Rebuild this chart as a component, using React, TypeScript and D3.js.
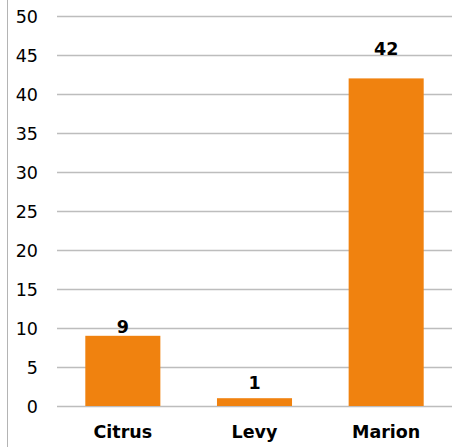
import React, { useEffect, useRef } from 'react';
import * as d3 from 'd3';

const categories = ['Citrus', 'Levy', 'Marion'];
const values = [9, 1, 42];
const yTicks = [0, 5, 10, 15, 20, 25, 30, 35, 40, 45, 50];

const W = 452;
const H = 447;
const margin = { top: 16, right: 0, bottom: 41, left: 57 };
const barColor = '#f0820f';
const gridColor = '#bdbdbd';
const font = 'Verdana, "DejaVu Sans", sans-serif';

// excel puts the labels a bit unevenly above the bars
const labelGap = [3, 9, 23];

const App = () => {
  const ref = useRef<SVGSVGElement>(null);

  useEffect(() => {
    if (!ref.current) return;
    const svg = d3.select(ref.current);
    svg.selectAll('*').remove();

    const x = d3.scaleBand()
      .domain(categories)
      .range([margin.left, W - margin.right])
      .paddingInner(0.43)
      .paddingOuter(0.215);

    const y = d3.scaleLinear()
      .domain([0, 50])
      .range([H - margin.bottom, margin.top]);

    // frame line on the left
    svg.append('line')
      .attr('x1', 7.5).attr('x2', 7.5)
      .attr('y1', 0).attr('y2', H)
      .attr('stroke', '#b4b4b4')
      .attr('stroke-width', 1);

    // grid
    svg.append('g')
      .selectAll('line')
      .data(yTicks)
      .enter()
      .append('line')
      .attr('x1', margin.left)
      .attr('x2', W)
      .attr('y1', d => Math.round(y(d)) + 0.5)
      .attr('y2', d => Math.round(y(d)) + 0.5)
      .attr('stroke', gridColor)
      .attr('stroke-width', 1.5);

    // y tick labels
    svg.append('g')
      .selectAll('text')
      .data(yTicks)
      .enter()
      .append('text')
      .attr('x', 38)
      .attr('y', d => y(d) + 7)
      .attr('text-anchor', 'end')
      .attr('font-family', font)
      .attr('font-size', 17.5)
      .attr('fill', '#000')
      .text(d => d);

    // bars
    svg.append('g')
      .selectAll('rect')
      .data(values)
      .enter()
      .append('rect')
      .attr('x', (d, i) => x(categories[i])!)
      .attr('width', x.bandwidth())
      .attr('y', d => y(d))
      .attr('height', d => y(0) - y(d))
      .attr('fill', barColor);

    // value labels
    svg.append('g')
      .selectAll('text')
      .data(values)
      .enter()
      .append('text')
      .attr('x', (d, i) => x(categories[i])! + x.bandwidth() / 2)
      .attr('y', (d, i) => y(d) - labelGap[i])
      .attr('text-anchor', 'middle')
      .attr('font-family', font)
      .attr('font-weight', 'bold')
      .attr('font-size', 17.5)
      .attr('fill', '#000')
      .text(d => d);

    // category labels
    svg.append('g')
      .selectAll('text')
      .data(categories)
      .enter()
      .append('text')
      .attr('x', d => x(d)! + x.bandwidth() / 2)
      .attr('y', 438)
      .attr('text-anchor', 'middle')
      .attr('font-family', font)
      .attr('font-weight', 'bold')
      .attr('font-size', 17.5)
      .attr('fill', '#000')
      .text(d => d);
  }, []);

  return (
    <svg
      ref={ref}
      width={W}
      height={H}
      style={{ position: 'fixed', left: 0, top: 0, background: '#fff' }}
    ></svg>
  );
};

export default App;
